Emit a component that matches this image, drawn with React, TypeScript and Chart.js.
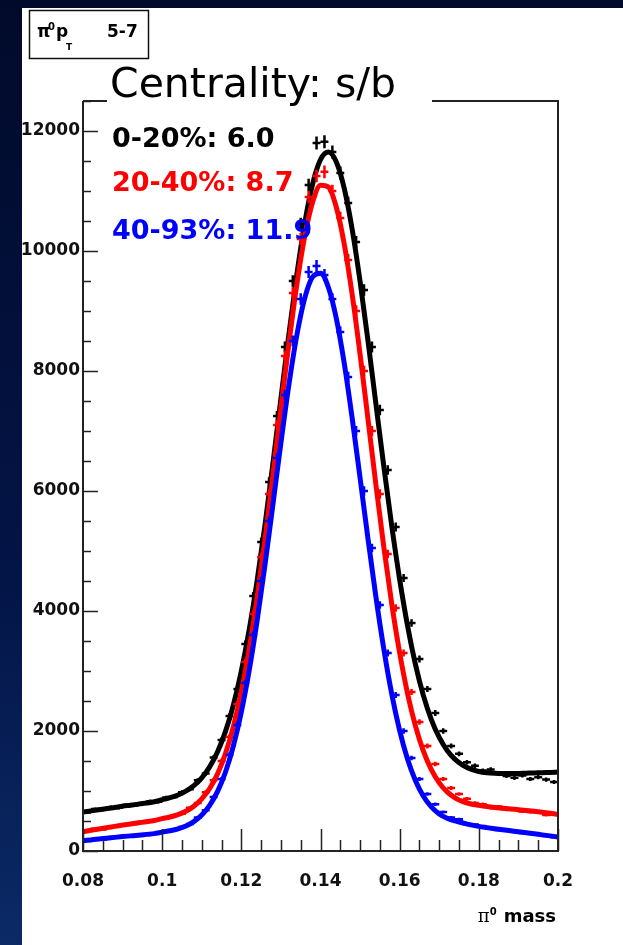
import { useEffect, useRef } from 'react';
import { Chart, registerables } from 'chart.js';

Chart.register(...registerables);

// ---- data ----
const FIT_MASS = [
  0.080, 0.082, 0.084, 0.086, 0.088, 0.090, 0.092, 0.094, 0.096, 0.098,
  0.100, 0.102, 0.104, 0.106, 0.108, 0.110, 0.112, 0.114, 0.116, 0.118,
  0.120, 0.122, 0.124, 0.126, 0.128, 0.130, 0.132, 0.134, 0.136, 0.138,
  0.140, 0.142, 0.144, 0.146, 0.148, 0.150, 0.152, 0.154, 0.156, 0.158,
  0.160, 0.162, 0.164, 0.166, 0.168, 0.170, 0.172, 0.174, 0.176, 0.178,
  0.180, 0.182, 0.184, 0.186, 0.188, 0.190, 0.192, 0.194, 0.196, 0.198,
  0.200,
];

const BIN_MASS = [
  0.081, 0.083, 0.085, 0.087, 0.089, 0.091, 0.093, 0.095, 0.097, 0.099,
  0.101, 0.103, 0.105, 0.107, 0.109, 0.111, 0.113, 0.115, 0.117, 0.119,
  0.121, 0.123, 0.125, 0.127, 0.129, 0.131, 0.133, 0.135, 0.137, 0.139,
  0.141, 0.143, 0.145, 0.147, 0.149, 0.151, 0.153, 0.155, 0.157, 0.159,
  0.161, 0.163, 0.165, 0.167, 0.169, 0.171, 0.173, 0.175, 0.177, 0.179,
  0.181, 0.183, 0.185, 0.187, 0.189, 0.191, 0.193, 0.195, 0.197, 0.199,
];

const FIT_0_20 = [
  650, 669, 688, 707, 726, 746, 763, 781, 800, 820,
  854, 888, 934, 998, 1089, 1220, 1402, 1653, 1994, 2437,
  3001, 3692, 4511, 5444, 6470, 7540, 8604, 9598, 10456, 11113,
  11522, 11650, 11484, 11043, 10361, 9493, 8502, 7449, 6406, 5417,
  4525, 3751, 3107, 2589, 2191, 1892, 1676, 1527, 1428, 1365,
  1326, 1305, 1294, 1290, 1290, 1293, 1297, 1301, 1306, 1310,
  1315,
];
const FIT_20_40 = [
  320, 345, 368, 390, 410, 431, 451, 470, 488, 509,
  539, 567, 606, 663, 747, 870, 1042, 1288, 1625, 2075,
  2656, 3373, 4227, 5204, 6268, 7374, 8452, 9432, 10240, 10811,
  11095, 11066, 10729, 10114, 9275, 8278, 7197, 6105, 5065, 4118,
  3301, 2622, 2080, 1663, 1355, 1136, 985, 886, 822, 784,
  761, 741, 725, 713, 700, 689, 676, 662, 646, 628,
  610,
];
const FIT_40_93 = [
  170, 185, 200, 213, 227, 240, 252, 264, 277, 290,
  315, 337, 368, 416, 490, 600, 761, 993, 1317, 1754,
  2318, 3015, 3843, 4780, 5786, 6803, 7764, 8590, 9210, 9569,
  9631, 9392, 8874, 8126, 7214, 6216, 5202, 4236, 3364, 2616,
  2005, 1528, 1171, 913, 735, 618, 545, 501, 467, 435,
  410, 390, 371, 353, 337, 320, 303, 286, 269, 252,
  235,
];

const DATA_0_20 = [
  640, 700, 690, 730, 720, 770, 760, 800, 830, 820,
  890, 900, 980, 1030, 1180, 1290, 1560, 1850, 2250, 2700,
  3450, 4250, 5150, 6150, 7250, 8400, 9500, 10450, 11100, 11800,
  11820, 11650, 11300, 10800, 10150, 9350, 8400, 7350, 6350, 5400,
  4550, 3800, 3200, 2700, 2300, 2000, 1750, 1620, 1480, 1420,
  1340, 1360, 1290, 1250, 1220, 1260, 1200, 1230, 1190, 1150,
];
const DATA_20_40 = [
  330, 370, 360, 410, 420, 450, 450, 490, 500, 520,
  560, 590, 620, 720, 800, 980, 1180, 1500, 1900, 2450,
  3150, 3950, 4900, 5950, 7100, 8250, 9300, 10200, 10900, 11250,
  11320, 11000, 10550, 9850, 9000, 8000, 7000, 5950, 4950, 4050,
  3300, 2650, 2150, 1750, 1450, 1200, 1050, 950, 870, 800,
  780, 720, 740, 690, 700, 660, 650, 640, 600, 610,
];
const DATA_40_93 = [
  170, 200, 190, 230, 220, 250, 260, 270, 290, 300,
  330, 350, 400, 450, 560, 680, 900, 1200, 1600, 2100,
  2800, 3600, 4500, 5500, 6550, 7600, 8500, 9200, 9650, 9750,
  9600, 9200, 8650, 7900, 7000, 6000, 5050, 4100, 3300, 2600,
  2000, 1550, 1200, 950, 780, 650, 560, 530, 450, 440,
  390, 380, 350, 360, 320, 300, 290, 270, 250, 230,
];

const SERIES_LABELS = ['0-20%: 6.0', '20-40%: 8.7', '40-93%: 11.9'];
const SERIES_COLORS = ['#000000', '#ff0000', '#0000ff'];

const Y_TICKS = [0, 2000, 4000, 6000, 8000, 10000, 12000];
const Y_MAX = 12500;
const Y_MINOR = 500;
const X_TICKS = [0.08, 0.1, 0.12, 0.14, 0.16, 0.18, 0.2];
const X_TICK_LABELS = ['0.08', '0.1', '0.12', '0.14', '0.16', '0.18', '0.2'];
const X_MINOR = 0.005;
const BIN_HALF_WIDTH = 0.001;

const TITLE_TEXT = 'Centrality: s/b';
const X_TITLE = 'mass';
const PAVE_PT = '5-7';

const AXIS_FONT = '"DejaVu Sans", sans-serif';

const bgPlugin = {
  id: 'slideBackground',
  beforeDraw(chart: any) {
    const { ctx, width, height } = chart;
    ctx.save();
    const g = ctx.createLinearGradient(0, 0, 0, height);
    g.addColorStop(0, '#010a2a');
    g.addColorStop(0.6, '#031446');
    g.addColorStop(1, '#0b2a66');
    ctx.fillStyle = g;
    ctx.fillRect(0, 0, width, height);
    ctx.fillStyle = '#ffffff';
    ctx.fillRect(22, 8, width - 22, height - 8);
    ctx.restore();
  },
};

const errorCrossPlugin = {
  id: 'errorCross',
  afterDatasetDraw(chart: any, args: any) {
    const ds = chart.data.datasets[args.index];
    if (!ds.isHistogram) return;
    const { ctx } = chart;
    const xs = chart.scales.x;
    const ys = chart.scales.y;
    ctx.save();
    ctx.beginPath();
    ctx.rect(chart.chartArea.left, chart.chartArea.top, chart.chartArea.width, chart.chartArea.height);
    ctx.clip();
    ctx.strokeStyle = ds.borderColor;
    ctx.lineWidth = 2.5;
    ctx.beginPath();
    for (const p of ds.data) {
      const x0 = xs.getPixelForValue(p.x - BIN_HALF_WIDTH);
      const x1 = xs.getPixelForValue(p.x + BIN_HALF_WIDTH);
      const xc = xs.getPixelForValue(p.x);
      const yc = ys.getPixelForValue(p.y);
      const err = Math.sqrt(p.y);
      const ya = ys.getPixelForValue(p.y - err);
      const yb = ys.getPixelForValue(p.y + err);
      ctx.moveTo(x0, yc);
      ctx.lineTo(x1, yc);
      ctx.moveTo(xc, ya);
      ctx.lineTo(xc, yb);
    }
    ctx.stroke();
    ctx.restore();
  },
};

const framePlugin = {
  id: 'rootFrame',
  afterDatasetsDraw(chart: any) {
    const { ctx, chartArea: a } = chart;
    const xs = chart.scales.x;
    const ys = chart.scales.y;
    ctx.save();
    ctx.strokeStyle = '#222222';
    ctx.lineWidth = 2;
    ctx.beginPath();
    ctx.moveTo(a.left, a.top);
    ctx.lineTo(a.left, a.bottom);
    ctx.lineTo(a.right, a.bottom);
    ctx.lineTo(a.right, a.top);
    ctx.lineTo(a.left, a.top);
    ctx.stroke();
    ctx.lineWidth = 1.5;
    ctx.beginPath();
    for (let k = 0; ys.min + k * Y_MINOR <= ys.max + 1e-6; k++) {
      const v = ys.min + k * Y_MINOR;
      const major = Y_TICKS.includes(v);
      const py = Math.round(ys.getPixelForValue(v)) + 0.5;
      ctx.moveTo(a.left, py);
      ctx.lineTo(a.left + (major ? 15 : 8), py);
    }
    for (let k = 0; xs.min + k * X_MINOR <= xs.max + 1e-9; k++) {
      const v = xs.min + k * X_MINOR;
      const major = k % 4 === 0;
      const px = Math.round(xs.getPixelForValue(v)) + 0.5;
      ctx.moveTo(px, a.bottom);
      ctx.lineTo(px, a.bottom - (major ? 22 : 11));
    }
    ctx.stroke();
    ctx.restore();
  },
};

const textPlugin = {
  id: 'rootTexts',
  afterDraw(chart: any) {
    const { ctx, chartArea: a } = chart;
    ctx.save();
    // title pave crossing the top of the frame
    ctx.fillStyle = '#ffffff';
    ctx.fillRect(a.left + 24, a.top - 40, 325, 44);
    ctx.fillStyle = '#000000';
    ctx.textAlign = 'left';
    ctx.textBaseline = 'alphabetic';
    ctx.font = '41px ' + AXIS_FONT;
    ctx.fillText(TITLE_TEXT, a.left + 27, a.top - 4);

    // legend-like entries
    ctx.font = 'bold 27px ' + AXIS_FONT;
    const baselines = [147, 191, 239];
    SERIES_LABELS.forEach((t, i) => {
      ctx.fillStyle = SERIES_COLORS[i];
      ctx.fillText(t, a.left + 29, baselines[i]);
    });

    // pave "pi0 pT 5-7"
    ctx.fillStyle = '#ffffff';
    ctx.fillRect(29, 10, 120, 49);
    ctx.strokeStyle = '#111111';
    ctx.lineWidth = 1.5;
    ctx.strokeRect(29.5, 10.5, 119, 48);
    ctx.fillStyle = '#000000';
    ctx.font = 'bold 17px ' + AXIS_FONT;
    ctx.fillText('π', 37, 37);
    ctx.font = 'bold 10px ' + AXIS_FONT;
    ctx.fillText('0', 48, 30);
    ctx.font = 'bold 17px ' + AXIS_FONT;
    ctx.fillText('p', 56, 37);
    ctx.font = 'bold 9px ' + AXIS_FONT;
    ctx.fillText('T', 66, 50);
    ctx.font = 'bold 17px ' + AXIS_FONT;
    ctx.fillText(PAVE_PT, 107, 37);

    // x axis title
    ctx.textAlign = 'right';
    ctx.font = 'bold 18px ' + AXIS_FONT;
    const right = a.right - 2;
    ctx.fillText(X_TITLE, right, 922);
    const w = ctx.measureText(X_TITLE).width;
    ctx.font = 'bold 10px ' + AXIS_FONT;
    ctx.fillText('0', right - w - 7, 915);
    ctx.font = '18px "DejaVu Serif", serif';
    ctx.fillText('π', right - w - 14, 922);
    ctx.restore();
  },
};

export default function App() {
  const canvasRef = useRef<HTMLCanvasElement | null>(null);

  useEffect(() => {
    document.body.style.margin = '0';
    const canvas = canvasRef.current;
    if (!canvas) return;

    const fits = [FIT_0_20, FIT_20_40, FIT_40_93];
    const hists = [DATA_0_20, DATA_20_40, DATA_40_93];
    const datasets: any[] = [];
    fits.forEach((fit, i) => {
      datasets.push({
        label: SERIES_LABELS[i] + ' data',
        isHistogram: true,
        data: BIN_MASS.map((m, k) => ({ x: m, y: hists[i][k] })),
        borderColor: SERIES_COLORS[i],
        backgroundColor: SERIES_COLORS[i],
        showLine: false,
        pointRadius: 0,
        pointHoverRadius: 0,
        order: 5 - 2 * i,
      });
      datasets.push({
        label: SERIES_LABELS[i] + ' fit',
        data: FIT_MASS.map((m, k) => ({ x: m, y: fit[k] })),
        borderColor: SERIES_COLORS[i],
        backgroundColor: SERIES_COLORS[i],
        borderWidth: 5,
        pointRadius: 0,
        pointHoverRadius: 0,
        cubicInterpolationMode: 'monotone',
        fill: false,
        order: 4 - 2 * i,
      });
    });

    const chart = new Chart(canvas, {
      type: 'line',
      data: { datasets },
      plugins: [bgPlugin, errorCrossPlugin, framePlugin, textPlugin],
      options: {
        animation: false,
        responsive: false,
        devicePixelRatio: 1,
        events: [],
        layout: { padding: { left: 0, top: 101, right: 65, bottom: 0 } },
        plugins: {
          legend: { display: false },
          tooltip: { enabled: false },
          title: { display: false },
        },
        scales: {
          x: {
            type: 'linear',
            min: X_TICKS[0],
            max: X_TICKS[X_TICKS.length - 1],
            afterBuildTicks: (s: any) => {
              s.ticks = X_TICKS.map((v) => ({ value: v }));
            },
            afterFit: (s: any) => {
              s.height = 94;
            },
            grid: { display: false, drawTicks: false },
            border: { display: false },
            ticks: {
              autoSkip: false,
              maxRotation: 0,
              padding: 20,
              color: '#111111',
              font: { family: AXIS_FONT, weight: 'bold', size: 17 },
              callback: (_v: any, i: number) => X_TICK_LABELS[i],
            },
          },
          y: {
            type: 'linear',
            min: 0,
            max: Y_MAX,
            afterBuildTicks: (s: any) => {
              s.ticks = Y_TICKS.map((v) => ({ value: v }));
            },
            afterFit: (s: any) => {
              s.width = 83;
            },
            grid: { display: false, drawTicks: false },
            border: { display: false },
            ticks: {
              padding: 3,
              color: '#111111',
              font: { family: AXIS_FONT, weight: 'bold', size: 17 },
              callback: (v: any) => String(v),
            },
          },
        },
      } as any,
    });
    return () => chart.destroy();
  }, []);

  return (
    <div style={{ position: 'absolute', left: 0, top: 0, width: 623, height: 945 }}>
      <canvas ref={canvasRef} width={623} height={945} style={{ display: 'block' }} />
    </div>
  );
}
